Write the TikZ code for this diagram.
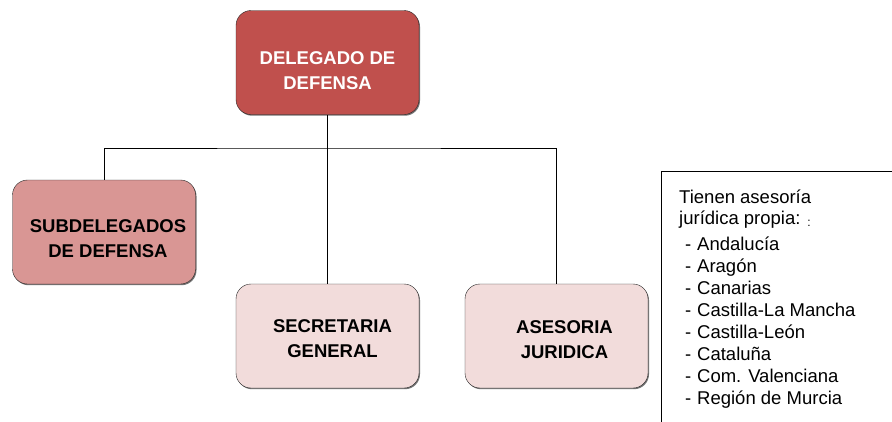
\documentclass[tikz,border=0pt]{standalone}
\usepackage{fontspec}
\setmainfont{Liberation Sans}
\usetikzlibrary{shadows}
\definecolor{rojo}{HTML}{C0504D}
\definecolor{rosa}{HTML}{D99694}
\definecolor{rosaclaro}{HTML}{F2DCDB}
\tikzset{
    cargo/.style={draw=black!85, rounded corners=15pt, minimum width=183pt, minimum height=104pt,
        inner sep=0pt,
        drop shadow={shadow xshift=1pt, shadow yshift=-1.2pt, fill=black!55, opacity=1}},
    rotulo/.style={inner sep=0pt, align=center, font=\fontsize{18.5}{25}\selectfont\bfseries},
    linea/.style={draw=black, line width=0.9pt}
}
\begin{document}
\begin{tikzpicture}[x=1pt,y=-1pt]
    \clip (0,0) rectangle (892,421);
    \fill[white] (0,0) rectangle (892,421);

    % Boxes of the chart
    \node[cargo, fill=rojo] (deleg) at (327.5,62.5) {};
    \node[cargo, fill=rosa] (subdel) at (104,232) {};
    \node[cargo, fill=rosaclaro] (secre) at (327.5,336) {};
    \node[cargo, fill=rosaclaro] (ases) at (556.5,336) {};

    % Their texts
    \node[rotulo, text=white] (delegtxt) at ([shift={(0,8)}]deleg.center) {DELEGADO DE\\DEFENSA};
    \node[rotulo] (subdeltxt) at ([shift={(4,7)}]subdel.center) {SUBDELEGADOS\\DE DEFENSA};
    \node[rotulo] (secretxt) at ([shift={(5,3)}]secre.center) {SECRETARIA\\GENERAL};
    \node[rotulo] (asestxt) at ([shift={(8,4)}]ases.center) {ASESORIA\\JURIDICA};

    % Connectors
    \coordinate (bus) at (327.5,148);
    \draw[linea] (deleg.south) -- (secre.north);
    \draw[linea] (subdel.north) |- (bus) -| (ases.north);

    % Note on the right
    \node[draw=black, line width=0.8pt, minimum width=300pt, minimum height=300pt, anchor=north west,
        inner sep=0pt] (nota) at (661,171) {};
    \node[anchor=north west, inner sep=0pt, align=left,
        font=\fontsize{18.5}{20.5}\selectfont] (notatxt) at (679,190) {%
        Tienen asesoría\\
        jurídica propia: \raisebox{-2pt}{\fontsize{12}{12}\selectfont:}\\[6pt]
        \hspace*{6pt}\makebox[12pt][l]{-}Andalucía\\[1.4pt]
        \hspace*{6pt}\makebox[12pt][l]{-}Aragón\\[1.4pt]
        \hspace*{6pt}\makebox[12pt][l]{-}Canarias\\[1.4pt]
        \hspace*{6pt}\makebox[12pt][l]{-}Castilla-La Mancha\\[1.4pt]
        \hspace*{6pt}\makebox[12pt][l]{-}Castilla-León\\[1.4pt]
        \hspace*{6pt}\makebox[12pt][l]{-}Cataluña\\[1.4pt]
        \hspace*{6pt}\makebox[12pt][l]{-}Com. Valenciana\\[1.4pt]
        \hspace*{6pt}\makebox[12pt][l]{-}Región de Murcia};
\end{tikzpicture}
\end{document}
